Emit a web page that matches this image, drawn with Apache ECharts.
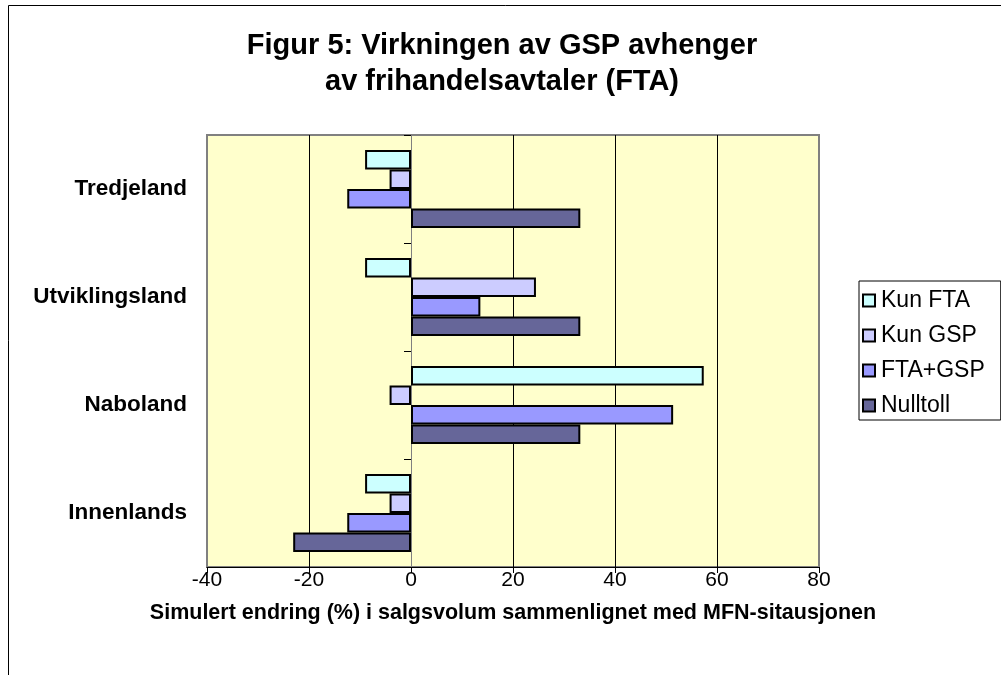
<!DOCTYPE html>
<html>
<head>
<meta charset="utf-8">
<script src="https://cdn.jsdelivr.net/npm/echarts@6/dist/echarts.min.js"></script>
<style>
  html, body { margin: 0; padding: 0; background: #fff; }
  #charts { width: 1001px; height: 675px; }
</style>
</head>
<body>
<div id="charts"></div>
<script>
// categories bottom -> top (ECharts draws the first category at the bottom)
var categories = ['Innenlands', 'Naboland', 'Utviklingsland', 'Tredjeland'];
var legendOrder = ['Kun FTA', 'Kun GSP', 'FTA+GSP', 'Nulltoll'];

// values per category, same order as categories
var kunFTA   = [-9, 57.4, -9, -9];
var kunGSP   = [-4.2, -4.2, 24.5, -4.2];
var ftaGsp   = [-12.5, 51.4, 13.6, -12.5];
var nulltoll = [-23.1, 33.2, 33.2, 33.2];

var xTicks = { min: -40, max: 80, interval: 20 };

function initECharts(myChart) {
    var font = 'Liberation Sans, Arial, sans-serif';
    function bar(name, data, color) {
        return {
            name: name,
            type: 'bar',
            yAxisIndex: 1,
            data: data,
            barGap: 0,
            barCategoryGap: '28%',
            itemStyle: { color: color, borderColor: '#000', borderWidth: 2 }
        };
    }

    var option = {
        animation: false,
        textStyle: { fontFamily: font },
        title: {
            text: 'Figur 5: Virkningen av GSP avhenger\nav frihandelsavtaler (FTA)',
            left: 502,
            top: 28,
            padding: 0,
            textAlign: 'center',
            textStyle: { fontSize: 29, fontWeight: 'bold', lineHeight: 36, color: '#000', fontFamily: font }
        },
        graphic: [{
            type: 'rect',
            shape: { x: 8.5, y: 5.5, width: 1100, height: 1000 },
            style: { fill: 'none', stroke: '#000', lineWidth: 1 },
            silent: true
        }],
        legend: {
            data: legendOrder,
            orient: 'vertical',
            left: 859,
            top: 281,
            padding: [8, 16, 3, 3],
            itemGap: 12,
            icon: 'rect',
            itemWidth: 12,
            itemHeight: 12,
            itemStyle: { borderColor: '#000', borderWidth: 2 },
            borderColor: '#000',
            borderWidth: 1,
            borderRadius: 0,
            backgroundColor: '#fff',
            textStyle: { fontSize: 23, color: '#000', lineHeight: 22, padding: [0, 0, 0, 1], fontFamily: font }
        },
        grid: {
            left: 207, right: 182, top: 135, bottom: 108,
            show: true,
            backgroundColor: '#FFFFCC',
            borderColor: '#808080',
            borderWidth: 2
        },
        xAxis: {
            type: 'value',
            min: xTicks.min, max: xTicks.max, interval: xTicks.interval,
            axisLine: { show: true, onZero: false, lineStyle: { color: '#000', width: 1 } },
            axisTick: { show: true, length: 6, lineStyle: { color: '#000' } },
            axisLabel: { fontSize: 21, color: '#000', margin: 3, fontFamily: font },
            splitLine: { show: true, showMinLine: false, showMaxLine: false, lineStyle: { color: '#000', width: 1 } },
            name: 'Simulert endring (%) i salgsvolum sammenlignet med MFN-sitausjonen',
            nameLocation: 'middle',
            nameGap: 35,
            nameTextStyle: { fontSize: 21.5, fontWeight: 'bold', color: '#000', fontFamily: font }
        },
        yAxis: [{
            type: 'category',
            data: categories,
            position: 'left',
            axisLine: { show: false, onZero: false },
            axisTick: { show: false },
            axisLabel: { fontSize: 22.5, fontWeight: 'bold', color: '#000', margin: 20, fontFamily: font },
            splitLine: { show: false }
        }, {
            type: 'category',
            data: categories,
            position: 'right',
            axisLine: { show: true, onZero: true, lineStyle: { color: '#808080', width: 1 } },
            axisTick: { show: true, inside: true, length: 7, lineStyle: { color: '#000' } },
            axisLabel: { show: false },
            splitLine: { show: false }
        }],
        series: [
            bar('Kun FTA', kunFTA, '#CCFFFF'),
            bar('Kun GSP', kunGSP, '#CCCCFF'),
            bar('FTA+GSP', ftaGsp, '#9999FF'),
            bar('Nulltoll', nulltoll, '#666699')
        ]
    };

    myChart.setOption(option);
}

window.onload = function () {
    var myChart = echarts.init(document.getElementById('charts'));
    initECharts(myChart);
};
</script>
</body>
</html>
